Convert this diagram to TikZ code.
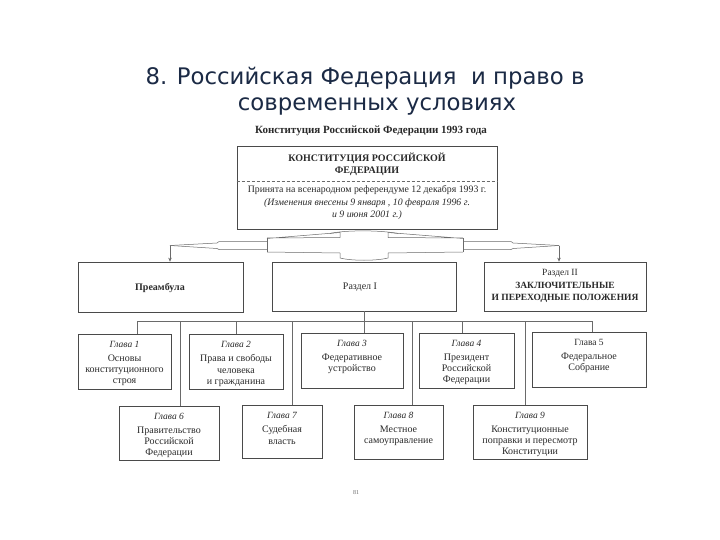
\documentclass[tikz,border=0pt]{standalone}
\usepackage{fontspec}
\setmainfont{Liberation Serif}
\newfontfamily\titlefont{DejaVu Sans}
\usetikzlibrary{arrows.meta}
\definecolor{titleblue}{HTML}{1B2A45}
\definecolor{ink}{HTML}{2A2A2A}
\definecolor{rulec}{HTML}{4A4A4A}
\definecolor{wirec}{HTML}{6A6A6A}
\newcommand\chbox[7]{%
  \node[box, minimum width={(#4-#2)*1pt}, minimum height={(#5-#3)*1pt}] (#1) at ({(#2+#4)/2},{(#3+#5)/2}) {};
  \node[lbl] (#1l) at ({(#2+#4)/2},{#3+10}) {#6};
  \node[txt, anchor=north] (#1t) at ({(#2+#4)/2},{#3+20.5}) {#7};
}
\begin{document}
\begin{tikzpicture}[x=1pt,y=-1pt,
  box/.style={draw=rulec, line width=0.7pt, inner sep=0pt},
  txt/.style={text=ink, font=\fontsize{10}{11.3}\selectfont, align=center, inner sep=0pt},
  lbl/.style={text=ink, font=\fontsize{9.5}{10}\selectfont, inner sep=0pt},
  wire/.style={draw=wirec, line width=0.5pt},
  arr/.style={wire, -{Stealth[length=4pt,width=3.5pt]}}]
\fill[white] (0,0) rectangle (720,540);
\useasboundingbox (0,0) rectangle (720,540);

% title
\node[text=titleblue, font=\titlefont\fontsize{22.8}{26}\selectfont, inner sep=0pt] (title1) at (365,78) {8. Российская Федерация \ и право в};
\node[text=titleblue, font=\titlefont\fontsize{22.8}{26}\selectfont, inner sep=0pt] (title2) at (377,106) {современных условиях};

% caption
\node[text=ink, font=\bfseries\fontsize{11}{12}\selectfont, inner sep=0pt] (cap) at (371,131) {Конституция Российской Федерации 1993 года};

% top box
\node[box, minimum width=260pt, minimum height=83pt] (top) at (367,187.5) {};
\node[txt, font=\bfseries\fontsize{10}{12.5}\selectfont] (topt) at (367,164.5) {КОНСТИТУЦИЯ РОССИЙСКОЙ\\ФЕДЕРАЦИИ};
\draw[wirec, line width=0.4pt, densely dashed] (top.west |- 0,181) -- (top.east |- 0,181);
\node[txt, font=\fontsize{9.8}{12}\selectfont] (topa) at (367,190) {Принята на всенародном референдуме 12 декабря 1993 г.};
\node[txt, font=\itshape\fontsize{9.8}{12}\selectfont] (topb) at (367,209) {(Изменения внесены 9 января , 10 февраля 1996 г.\\и 9 июня 2001 г.)};

% second level
\node[box, minimum width=165pt, minimum height=50pt] (pre) at (160.5,287) {};
\node[txt, font=\bfseries\fontsize{10}{11}\selectfont] (pret) at (160,288) {Преамбула};
\node[box, minimum width=184pt, minimum height=49pt] (r1) at (364,286.5) {};
\node[txt] (r1t) at (360,287) {Раздел I};
\node[box, minimum width=162pt, minimum height=49pt] (r2) at (565,286.5) {};
\node[txt, font=\fontsize{9.5}{11}\selectfont] (r2a) at (560,273) {Раздел II};
\node[txt, font=\bfseries\fontsize{9.5}{11.5}\selectfont] (r2b) at (565,292.5) {ЗАКЛЮЧИТЕЛЬНЫЕ\\И ПЕРЕХОДНЫЕ ПОЛОЖЕНИЯ};

% split connector
\coordinate (tl) at (170,245.5);
\coordinate (tr) at (559,245.5);
\draw[wire] (267,238) -- (267,252);
\draw[wire] (463,238) -- (463,252);
\draw[wire] (267,238.5) -- (340,232.5) -- (340,237.5) -- (267,238);
\draw[wire] (463,238.5) -- (388,232.5) -- (388,237.5) -- (463,238);
\draw[wire] (330,233.5) .. controls (345,230) and (380,230) .. (398,233.5);
\draw[wire] (267,252) -- (340,253) -- (340,258) .. controls (352,261) and (376,261) .. (388,258) -- (388,253) -- (463,252);
\draw[wire] (tl) -- (217,243) -- (219,241.5) -- (267,241.5);
\draw[wire] (tl) -- (217,248.5) -- (219,249.5) -- (267,249.5);
\draw[wire] (tr) -- (513,243) -- (511,241.5) -- (463,241.5);
\draw[wire] (tr) -- (513,248.5) -- (511,249.5) -- (463,249.5);
\draw[arr] (tl) -- (tl |- pre.north);
\draw[arr] (tr) -- (tr |- r2.north);

% chapters
\chbox{g1}{78}{334}{171}{389}{\itshape Глава 1}{Основы\\конституционного\\строя}
\chbox{g2}{189}{334}{283}{389}{\itshape Глава 2}{Права и свободы\\человека\\и гражданина}
\chbox{g3}{301}{333}{403}{388}{\itshape Глава 3}{Федеративное\\устройство}
\chbox{g4}{419}{333}{514}{388}{\itshape Глава 4}{Президент\\Российской\\Федерации}
\chbox{g5}{532}{332}{646}{387}{Глава 5}{Федеральное\\Собрание}
\chbox{g6}{119}{406}{219}{460}{\itshape Глава 6}{Правительство\\Российской\\Федерации}
\chbox{g7}{242}{405}{322}{458}{\itshape Глава 7}{Судебная\\власть}
\chbox{g8}{354}{405}{443}{459}{\itshape Глава 8}{Местное\\самоуправление}
\chbox{g9}{473}{405}{587}{459}{\itshape Глава 9}{Конституционные\\поправки и пересмотр\\Конституции}

% bus
\coordinate (b1) at (137,321);
\coordinate (b6) at (180,321);
\coordinate (b2) at (236,321);
\coordinate (b7) at (292,321);
\coordinate (b8) at (412,321);
\coordinate (b4) at (462,321);
\coordinate (b9) at (525,321);
\coordinate (b5) at (592,321);
\draw[wire] (b1) -- (b5);
\draw[wire] (r1.south) -- (r1.south |- g3.north);
\draw[wire] (b1) -- (b1 |- g1.north);
\draw[wire] (b2) -- (b2 |- g2.north);
\draw[wire] (b4) -- (b4 |- g4.north);
\draw[wire] (b5) -- (b5 |- g5.north);
\draw[wire] (b6) -- (b6 |- g6.north);
\draw[wire] (b7) -- (b7 |- g7.north);
\draw[wire] (b8) -- (b8 |- g8.north);
\draw[wire] (b9) -- (b9 |- g9.north);

% page number
\node[text=wirec, font=\fontsize{6}{7}\selectfont, inner sep=0pt] (pg) at (356,493) {81};
\end{tikzpicture}
\end{document}
